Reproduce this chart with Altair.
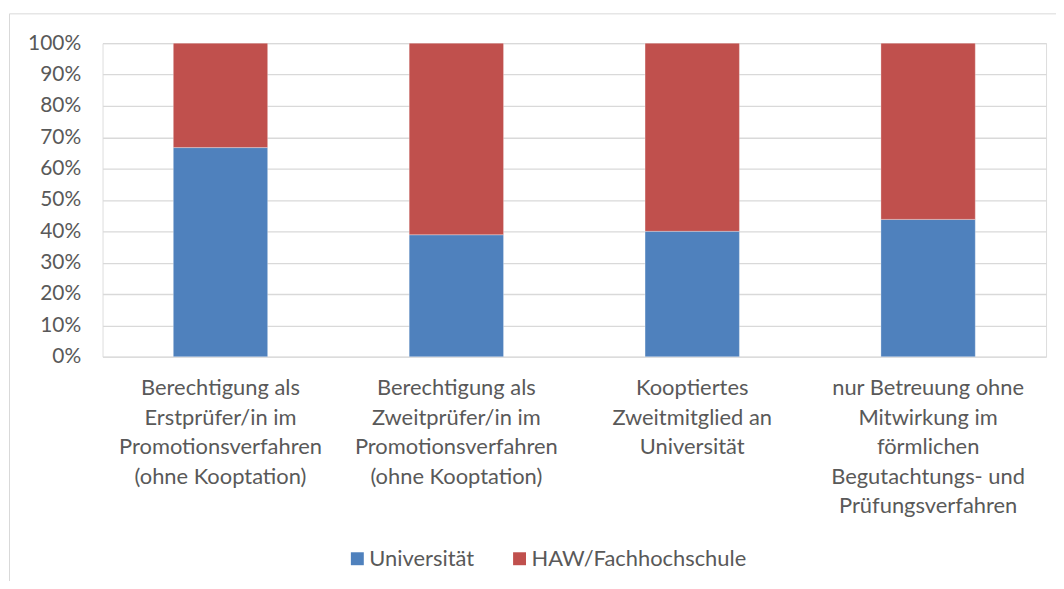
import altair as alt
import pandas as pd

categories = [
    "Berechtigung als\nErstprüfer/in im\nPromotionsverfahren\n(ohne Kooptation)",
    "Berechtigung als\nZweitprüfer/in im\nPromotionsverfahren\n(ohne Kooptation)",
    "Kooptiertes\nZweitmitglied an\nUniversität",
    "nur Betreuung ohne\nMitwirkung im\nförmlichen\nBegutachtungs- und\nPrüfungsverfahren",
]
series = ["Universität", "HAW/Fachhochschule"]
universitaet = [66.7, 38.9, 40.0, 43.8]
haw = [33.3, 61.1, 60.0, 56.2]
y_ticks = [0, 0.1, 0.2, 0.3, 0.4, 0.5, 0.6, 0.7, 0.8, 0.9, 1.0]
colors = ["#4F81BD", "#C0504D"]

rows = []
for c, u, h in zip(categories, universitaet, haw):
    rows.append({"cat": c, "series": series[0], "value": u, "ord": 0})
    rows.append({"cat": c, "series": series[1], "value": h, "ord": 1})
df = pd.DataFrame(rows)

FONT = "Lato"
TXT = "#595959"

frame = alt.Chart(pd.DataFrame({"a": [0]})).mark_rect(
    filled=False, stroke="#D9D9D9", strokeWidth=1, clip=False
).encode(
    x=alt.value(-93.5), x2=alt.value(1100), y=alt.value(-29.5), y2=alt.value(700)
)

bars = alt.Chart(df).mark_bar(stroke="#ffffff", strokeWidth=0.6, strokeOpacity=0.5).encode(
    x=alt.X(
        "cat:N",
        sort=categories,
        scale=alt.Scale(paddingInner=0.6, paddingOuter=0.3),
        axis=alt.Axis(
            title=None,
            labelAngle=0,
            labelExpr="split(datum.label, '\\n')",
            labelFont=FONT,
            labelFontSize=22,
            labelColor=TXT,
            labelLineHeight=29.7,
            labelPadding=21,
            labelBaseline="top",
            labelLimit=0,
            ticks=False,
            domain=False,
            grid=False,
        ),
    ),
    y=alt.Y(
        "value:Q",
        stack="normalize",
        scale=alt.Scale(domain=[0, 1]),
        axis=alt.Axis(
            title=None,
            values=y_ticks,
            format=".0%",
            labelFont=FONT,
            labelFontSize=21,
            labelColor=TXT,
            labelPadding=22,
            ticks=False,
            domain=False,
            grid=True,
            gridColor="#D9D9D9",
            gridWidth=1.3,
        ),
    ),
    color=alt.Color(
        "series:N",
        scale=alt.Scale(domain=series, range=colors),
        legend=alt.Legend(
            title=None,
            orient="none",
            legendX=245,
            legendY=507,
            direction="horizontal",
            symbolType="square",
            symbolSize=169,
            symbolStrokeWidth=0,
            labelFont=FONT,
            labelFontSize=22,
            labelColor=TXT,
            labelOffset=1,
            labelLimit=0,
            columnPadding=34,
        ),
    ),
    order=alt.Order("ord:Q"),
)

chart = alt.layer(frame, bars).properties(
    width=948,
    height=315,
    autosize=alt.AutoSizeParams(type="none"),
    padding={"left": 95, "top": 34, "right": 10, "bottom": 224},
).configure_view(stroke=None).configure(background="#ffffff")

chart.save("out.html", embed_options={"renderer": "svg", "actions": False})
